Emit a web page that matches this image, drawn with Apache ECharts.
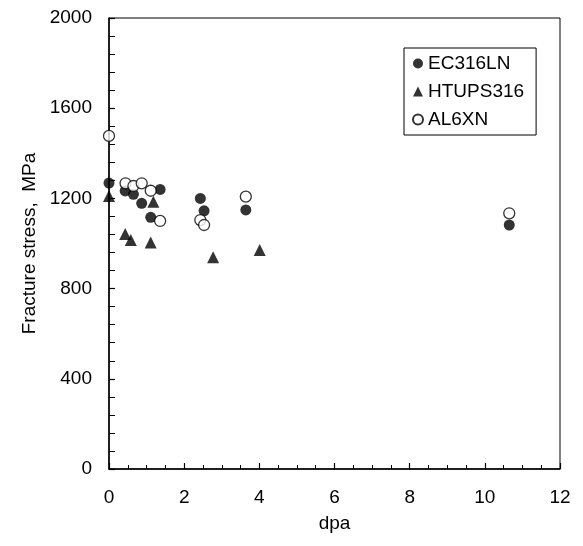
<!DOCTYPE html>
<html>
<head>
<meta charset="utf-8">
<script src="https://cdn.jsdelivr.net/npm/echarts@6/dist/echarts.min.js"></script>
<style>
html,body{margin:0;padding:0;background:#fff;}
#chart{width:583px;height:546px;}
</style>
</head>
<body>
<div id="chart"></div>
<script>
// Data
const ec316lnDpa = [0, 0.43, 0.65, 0.87, 1.36, 1.11, 2.43, 2.53, 3.64, 10.65];
const ec316lnStress = [1268, 1233, 1218, 1178, 1240, 1116, 1200, 1145, 1149, 1082];

const htupsDpa = [0, 0.43, 0.58, 1.18, 1.11, 2.77, 4.01];
const htupsStress = [1211, 1042, 1016, 1185, 1004, 939, 971];

const al6xnDpa = [0, 0.44, 0.65, 0.87, 1.11, 1.36, 2.43, 2.53, 3.64, 10.65];
const al6xnStress = [1477, 1267, 1255, 1267, 1234, 1100, 1104, 1082, 1208, 1134];

const seriesNames = ['EC316LN', 'HTUPS316', 'AL6XN'];
const xTicks = [0, 2, 4, 6, 8, 10, 12];
const yTicks = [0, 400, 800, 1200, 1600, 2000];

function pairs(xs, ys) { return xs.map((x, i) => [x, ys[i]]); }

const font = 'Liberation Sans, Arial, sans-serif';
const chart = echarts.init(document.getElementById('chart'), null, {renderer: 'canvas'});
chart.setOption({
  animation: false,
  backgroundColor: '#fff',
  grid: {left: 109, top: 18, right: 23, bottom: 77, show: true, borderColor: '#000', borderWidth: 1, containLabel: false},
  xAxis: {
    type: 'value', min: xTicks[0], max: xTicks[xTicks.length - 1], interval: 2,
    name: 'dpa', nameLocation: 'middle', nameGap: 45,
    nameTextStyle: {fontFamily: font, fontSize: 19, color: '#000'},
    axisLine: {show: true, onZero: false, lineStyle: {color: '#000', width: 1.5}},
    axisTick: {show: true, inside: true, length: 6, lineStyle: {color: '#000', width: 1.2}},
    minorTick: {show: true, splitNumber: 4, length: 4, lineStyle: {color: '#000', width: 1}},
    axisLabel: {fontFamily: font, fontSize: 19, color: '#000', margin: 19, formatter: v => String(v)},
    splitLine: {show: false}
  },
  yAxis: {
    type: 'value', min: yTicks[0], max: yTicks[yTicks.length - 1], interval: 400,
    name: 'Fracture stress,  MPa', nameLocation: 'middle', nameGap: 67,
    nameTextStyle: {fontFamily: font, fontSize: 19, color: '#000'},
    axisLine: {show: true, onZero: false, lineStyle: {color: '#000', width: 1.5}},
    axisTick: {show: true, inside: true, length: 6, lineStyle: {color: '#000', width: 1.2}},
    minorTick: {show: true, splitNumber: 5, length: 6, lineStyle: {color: '#000', width: 1}},
    axisLabel: {fontFamily: font, fontSize: 19, color: '#000', margin: 17, formatter: v => String(v)},
    splitLine: {show: false}
  },
  legend: {
    show: true, orient: 'vertical', left: 404, top: 48,
    data: seriesNames,
    borderColor: '#000', borderWidth: 1, padding: [6, 12, 6, 8],
    itemWidth: 10, itemHeight: 10, itemGap: 9,
    textStyle: {fontFamily: font, fontSize: 19, color: '#000'},
    backgroundColor: '#fff'
  },
  series: [
    {
      name: seriesNames[0], type: 'scatter', symbol: 'circle', symbolSize: 11,
      data: pairs(ec316lnDpa, ec316lnStress),
      itemStyle: {color: '#000', borderColor: '#000', borderWidth: 0}
    },
    {
      name: seriesNames[1], type: 'scatter', symbol: 'triangle', symbolSize: 12,
      data: pairs(htupsDpa, htupsStress),
      itemStyle: {color: '#000', borderColor: '#000', borderWidth: 0}
    },
    {
      name: seriesNames[2], type: 'scatter', symbol: 'circle', symbolSize: 11,
      data: pairs(al6xnDpa, al6xnStress),
      itemStyle: {color: '#fff', borderColor: '#000', borderWidth: 1.3}
    }
  ]
});
</script>
</body>
</html>
